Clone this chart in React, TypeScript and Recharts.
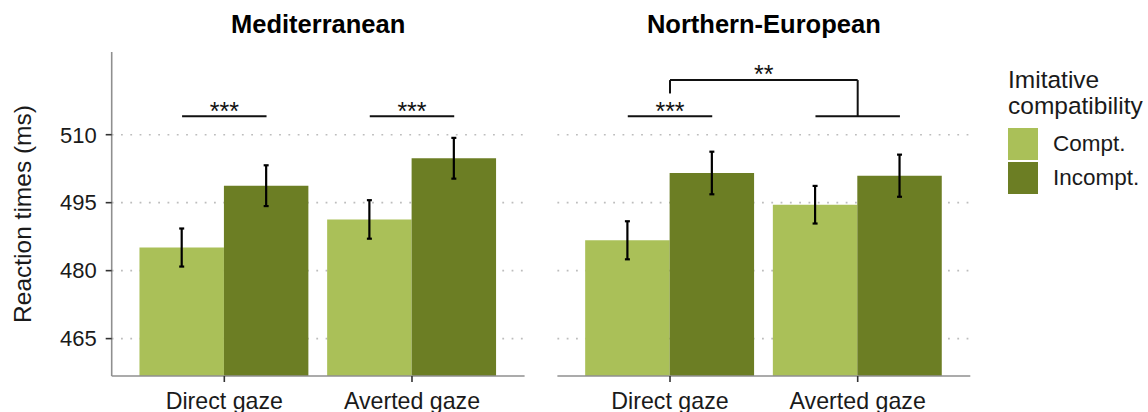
import React from 'react';
import {
  BarChart,
  Bar,
  XAxis,
  YAxis,
  CartesianGrid,
  ErrorBar,
  ReferenceLine,
  Legend,
} from 'recharts';

const GAZE = ['Direct gaze', 'Averted gaze'];

// mean reaction times (ms) and standard errors, per gaze condition
const MED_COMPT = [485.1, 491.3];
const MED_INCOMPT = [498.75, 504.8];
const MED_COMPT_SE = [4.2, 4.25];
const MED_INCOMPT_SE = [4.5, 4.5];

const NE_COMPT = [486.7, 494.55];
const NE_INCOMPT = [501.55, 500.95];
const NE_COMPT_SE = [4.2, 4.15];
const NE_INCOMPT_SE = [4.7, 4.65];

const Y_TICKS = [465, 480, 495, 510];
const Y_DOMAIN: [number, number] = [456.75, 528.25];

// significance bars, x in group units (1 = Direct, 2 = Averted, ±0.225 = bar centre)
const MED_SIG = [
  { x1: 0.775, x2: 1.225, y: 514.05, label: '***' },
  { x1: 1.775, x2: 2.225, y: 514.05, label: '***' },
];
const NE_SIG = [
  { x1: 0.775, x2: 1.225, y: 514.05, label: '***' },
  { x1: 1.775, x2: 2.225, y: 514.05, label: '' },
];
const NE_BRACKET = { x1: 1, x2: 2, y: 522.05, foot1: 519.1, foot2: 514.05, label: '**' };

const LIGHT = '#aac058';
const DARK = '#6c7e24';
const FONT = '"Liberation Sans", Arial, Helvetica, sans-serif';

const PANEL_W = 412.9;
const PAD = (PANEL_W * 0.1) / 2.2;
const BAR = (PANEL_W * 0.45) / 2.2;

const rows = (c: number[], i: number[], ce: number[], ie: number[]) =>
  GAZE.map((g, k) => ({
    gaze: g,
    pos: k + 1,
    compt: c[k],
    incompt: i[k],
    comptSe: ce[k],
    incomptSe: ie[k],
  }));

const medData = rows(MED_COMPT, MED_INCOMPT, MED_COMPT_SE, MED_INCOMPT_SE);
const neData = rows(NE_COMPT, NE_INCOMPT, NE_COMPT_SE, NE_INCOMPT_SE);

const starLabel = (value: string) =>
  value ? { value, position: 'top' as const, offset: -3.3, fontSize: 25, fill: '#111' } : undefined;

const renderLegend = ({ payload }: any) => (
  <div style={{ color: '#1a1a1a', textAlign: 'left', fontFamily: FONT }}>
    <div style={{ fontSize: 24.5, lineHeight: '26px' }}>
      <div>Imitative</div>
      <div>compatibility</div>
    </div>
    <div style={{ marginTop: 9.5, fontSize: 22.5 }}>
      {(payload || []).map((p: any) => (
        <div key={p.value} style={{ display: 'flex', alignItems: 'center', height: 32, marginBottom: 2 }}>
          <span style={{ width: 30, height: 32, background: p.color, display: 'inline-block' }} />
          <span style={{ marginLeft: 15 }}>{p.value}</span>
        </div>
      ))}
    </div>
  </div>
);

interface PanelProps {
  data: typeof medData;
  sig: typeof MED_SIG;
  bracket?: typeof NE_BRACKET;
  width: number;
  marginLeft: number;
  marginRight: number;
  showY?: boolean;
  showLegend?: boolean;
}

function Panel({ data, sig, bracket, width, marginLeft, marginRight, showY, showLegend }: PanelProps) {
  const line = { xAxisId: 'num', stroke: '#111', strokeWidth: 2, ifOverflow: 'visible' as const };
  return (
    <BarChart
      width={width}
      height={412}
      data={data}
      margin={{ top: 52, right: marginRight, bottom: 0, left: marginLeft }}
      barGap={0}
      barSize={BAR}
    >
      <CartesianGrid
        vertical={false}
        stroke="#bdbdbd"
        strokeWidth={1.6}
        strokeDasharray="1.8 7.5"
        horizontalValues={Y_TICKS}
      />
      <XAxis
        xAxisId="cat"
        dataKey="gaze"
        padding={{ left: PAD, right: PAD }}
        height={36}
        tickSize={6}
        tickMargin={11}
        interval={0}
        axisLine={{ stroke: '#8f8f8f', strokeWidth: 1.6 }}
        tickLine={{ stroke: '#333', strokeWidth: 1.6 }}
        tick={{ fontSize: 23.2, fill: '#1a1a1a' }}
      />
      {/* hidden numeric axis over the same panel, used for the significance bars */}
      <XAxis xAxisId="num" dataKey="pos" type="number" domain={[0.4, 2.6]} allowDataOverflow hide />
      <YAxis
        domain={Y_DOMAIN}
        allowDataOverflow
        ticks={Y_TICKS}
        width={showY ? 111.7 : 0}
        hide={!showY}
        tickSize={6}
        tickMargin={9}
        axisLine={{ stroke: '#8f8f8f', strokeWidth: 1.6 }}
        tickLine={{ stroke: '#333', strokeWidth: 1.6 }}
        tick={{ fontSize: 22, fill: '#1a1a1a' }}
        label={{
          value: 'Reaction times (ms)',
          angle: -90,
          position: 'insideLeft',
          offset: 22,
          style: { textAnchor: 'middle', fontSize: 24.5, fill: '#1a1a1a' },
        }}
      />
      <Bar xAxisId="cat" dataKey="compt" name="Compt." fill={LIGHT} isAnimationActive={false}>
        <ErrorBar dataKey="comptSe" direction="y" width={2.5} strokeWidth={2.2} stroke="#000" />
      </Bar>
      <Bar xAxisId="cat" dataKey="incompt" name="Incompt." fill={DARK} isAnimationActive={false}>
        <ErrorBar dataKey="incomptSe" direction="y" width={2.5} strokeWidth={2.2} stroke="#000" />
      </Bar>
      {sig.map((s, i) => (
        <ReferenceLine
          key={i}
          {...line}
          segment={[{ x: s.x1, y: s.y }, { x: s.x2, y: s.y }]}
          label={starLabel(s.label)}
        />
      ))}
      {bracket && (
        <ReferenceLine
          {...line}
          segment={[{ x: bracket.x1, y: bracket.foot1 }, { x: bracket.x1, y: bracket.y }]}
        />
      )}
      {bracket && (
        <ReferenceLine
          {...line}
          segment={[{ x: bracket.x1, y: bracket.y }, { x: bracket.x2, y: bracket.y }]}
          label={starLabel(bracket.label)}
        />
      )}
      {bracket && (
        <ReferenceLine
          {...line}
          segment={[{ x: bracket.x2, y: bracket.y }, { x: bracket.x2, y: bracket.foot2 }]}
        />
      )}
      {showLegend && (
        <Legend
          layout="horizontal"
          align="center"
          verticalAlign="middle"
          content={renderLegend}
          wrapperStyle={{ left: 468, top: 66.5, width: 150, height: 130 }}
        />
      )}
    </BarChart>
  );
}

const titleStyle: React.CSSProperties = {
  position: 'absolute',
  top: 11.3,
  width: PANEL_W,
  textAlign: 'center',
  fontSize: 25.5,
  lineHeight: '26px',
  fontWeight: 'bold',
  color: '#000',
};

export default function App() {
  return (
    <div
      style={{
        position: 'absolute',
        left: 0,
        top: 0,
        width: 1148,
        height: 412,
        overflow: 'hidden',
        background: '#fff',
        fontFamily: FONT,
      }}
    >
      <div style={{ position: 'absolute', left: 0, top: 0 }}>
        <Panel data={medData} sig={MED_SIG} width={545} marginLeft={0} marginRight={20.4} showY />
      </div>
      <div style={{ position: 'absolute', left: 540, top: 0 }}>
        <Panel
          data={neData}
          sig={NE_SIG}
          bracket={NE_BRACKET}
          width={608}
          marginLeft={17.4}
          marginRight={177.7}
          showLegend
        />
      </div>
      <div style={{ ...titleStyle, left: 111.7 }}>Mediterranean</div>
      <div style={{ ...titleStyle, left: 557.4 }}>Northern-European</div>
    </div>
  );
}
